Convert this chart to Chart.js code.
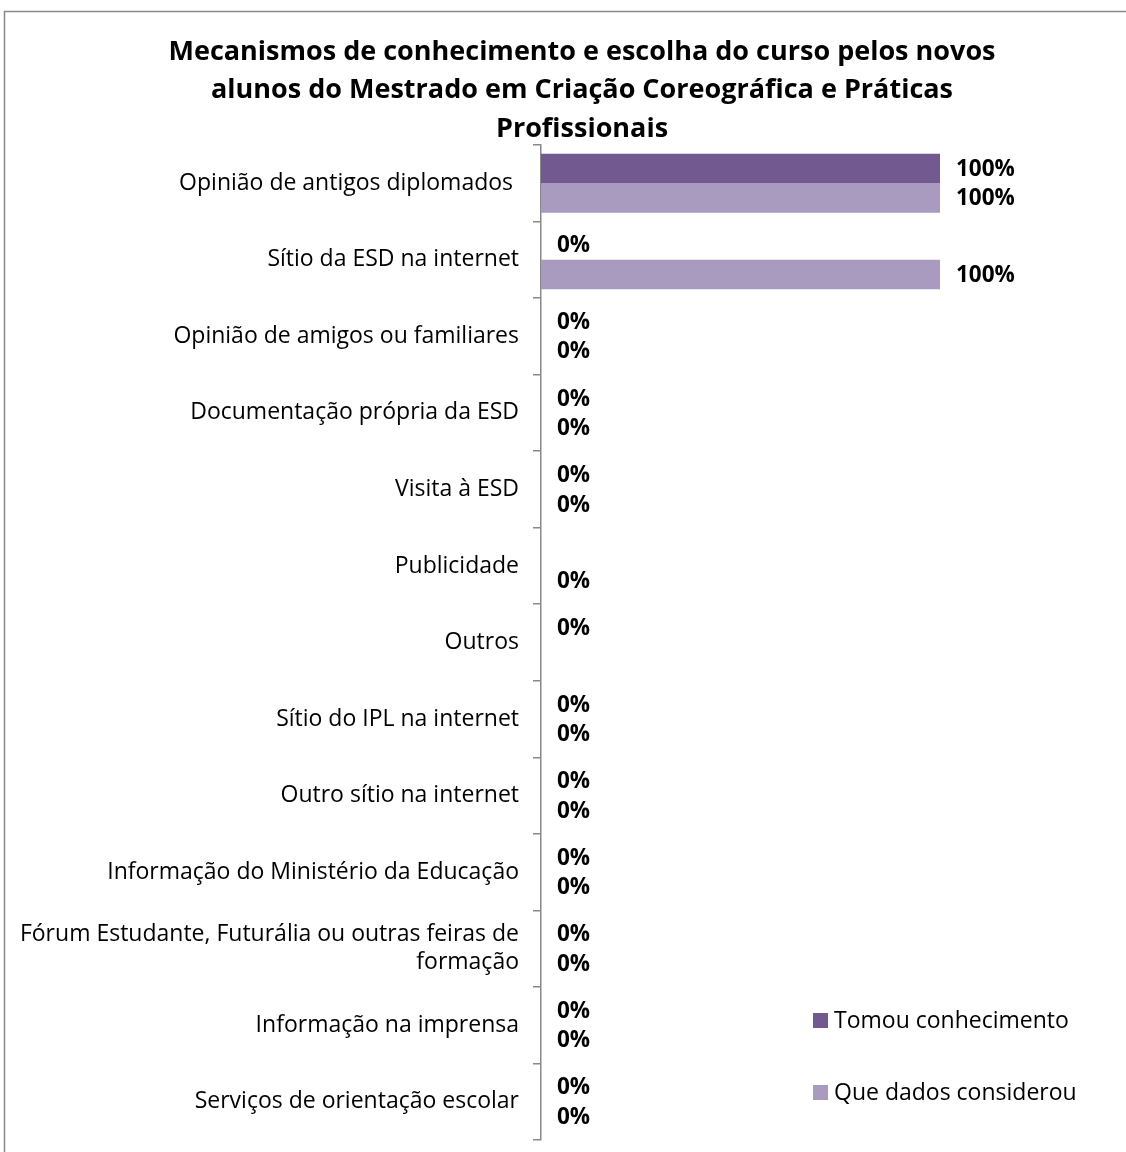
<!DOCTYPE html>
<html>
<head>
<meta charset="utf-8">
<script src="https://cdn.jsdelivr.net/npm/chart.js@4"></script>
<style>
  html, body { margin: 0; padding: 0; background: #fff; }
  #wrap { width: 1126px; height: 1152px; }
</style>
</head>
<body>
<div id="wrap"><canvas id="chart" width="1126" height="1152"></canvas></div>
<script>
// categories and values
var categories = [
  'Opinião de antigos diplomados ',
  'Sítio da ESD na internet',
  'Opinião de amigos ou familiares',
  'Documentação própria da ESD',
  'Visita à ESD',
  'Publicidade',
  'Outros',
  'Sítio do IPL na internet',
  'Outro sítio na internet',
  'Informação do Ministério da Educação',
  ['Fórum Estudante, Futurália ou outras feiras de', 'formação'],
  'Informação na imprensa',
  'Serviços de orientação escolar'
];
var tomouConhecimento = [100, 0, 0, 0, 0, null, 0, 0, 0, 0, 0, 0, 0];
var queDadosConsiderou = [100, 100, 0, 0, 0, 0, null, 0, 0, 0, 0, 0, 0];
var seriesNames = ['Tomou conhecimento', 'Que dados considerou'];
var seriesColors = ['#72598F', '#A99ABF'];
var titleLines = [
  'Mecanismos de conhecimento e escolha do curso pelos novos',
  'alunos do Mestrado em Criação Coreográfica e Práticas',
  'Profissionais'
];

var FONT = '"Open Sans"';
var AXIS_X = 541;

// value labels next to each bar
var valueLabels = {
  id: 'valueLabels',
  afterDatasetsDraw: function(chart) {
    var ctx = chart.ctx;
    ctx.save();
    ctx.font = 'bold 22.5px ' + FONT;
    ctx.fillStyle = '#000';
    ctx.textAlign = 'left';
    ctx.textBaseline = 'middle';
    chart.data.datasets.forEach(function(ds, i) {
      var meta = chart.getDatasetMeta(i);
      meta.data.forEach(function(el, j) {
        var v = ds.data[j];
        if (v === null || v === undefined) return;
        ctx.fillText(v + '%', el.x + 16, el.y + 1);
      });
    });
    ctx.restore();
  }
};

// title centred on the whole frame, outer frame, legend in the lower right
var decor = {
  id: 'decor',
  afterDraw: function(chart) {
    var ctx = chart.ctx;
    ctx.save();
    ctx.strokeStyle = '#898989';
    ctx.lineWidth = 1.5;
    ctx.beginPath();
    ctx.moveTo(4.5, 1152);
    ctx.lineTo(4.5, 11.5);
    ctx.lineTo(1126, 11.5);
    ctx.stroke();

    ctx.fillStyle = '#000';
    ctx.font = 'bold 27px ' + FONT;
    ctx.textAlign = 'center';
    ctx.textBaseline = 'middle';
    titleLines.forEach(function(t, i) {
      ctx.fillText(t, 582, 52 + i * 38.5);
    });

    var ys = [1020, 1092];
    ctx.font = '23px ' + FONT;
    ctx.textAlign = 'left';
    chart.data.datasets.forEach(function(ds, i) {
      ctx.fillStyle = ds.backgroundColor;
      ctx.fillRect(813, ys[i] - 7, 15, 15);
      ctx.fillStyle = '#000';
      ctx.fillText(ds.label, 834, ys[i] + 1);
    });
    ctx.restore();
  }
};

new Chart(document.getElementById('chart'), {
  type: 'bar',
  data: {
    labels: categories,
    datasets: [
      { label: seriesNames[0], data: tomouConhecimento, backgroundColor: seriesColors[0] },
      { label: seriesNames[1], data: queDadosConsiderou, backgroundColor: seriesColors[1] }
    ]
  },
  options: {
    indexAxis: 'y',
    responsive: false,
    animation: false,
    devicePixelRatio: 1,
    categoryPercentage: 0.77,
    barPercentage: 1,
    layout: { padding: { top: 145, right: 186, bottom: 12, left: 0 } },
    scales: {
      x: {
        display: false,
        min: 0,
        max: 100
      },
      y: {
        offset: true,
        grid: {
          offset: true,
          drawOnChartArea: false,
          tickLength: 8,
          color: '#898989',
          lineWidth: 1.5
        },
        border: { color: '#898989', width: 1.5 },
        ticks: {
          color: '#000',
          padding: 14,
          font: { family: 'Open Sans', size: 23, lineHeight: 1.22 }
        },
        afterFit: function(scale) {
          scale.width = AXIS_X;
          scale.paddingTop = 0;
          scale.paddingBottom = 0;
        }
      }
    },
    plugins: {
      legend: { display: false },
      tooltip: { enabled: false },
      title: { display: false }
    }
  },
  plugins: [valueLabels, decor]
});
</script>
</body>
</html>
